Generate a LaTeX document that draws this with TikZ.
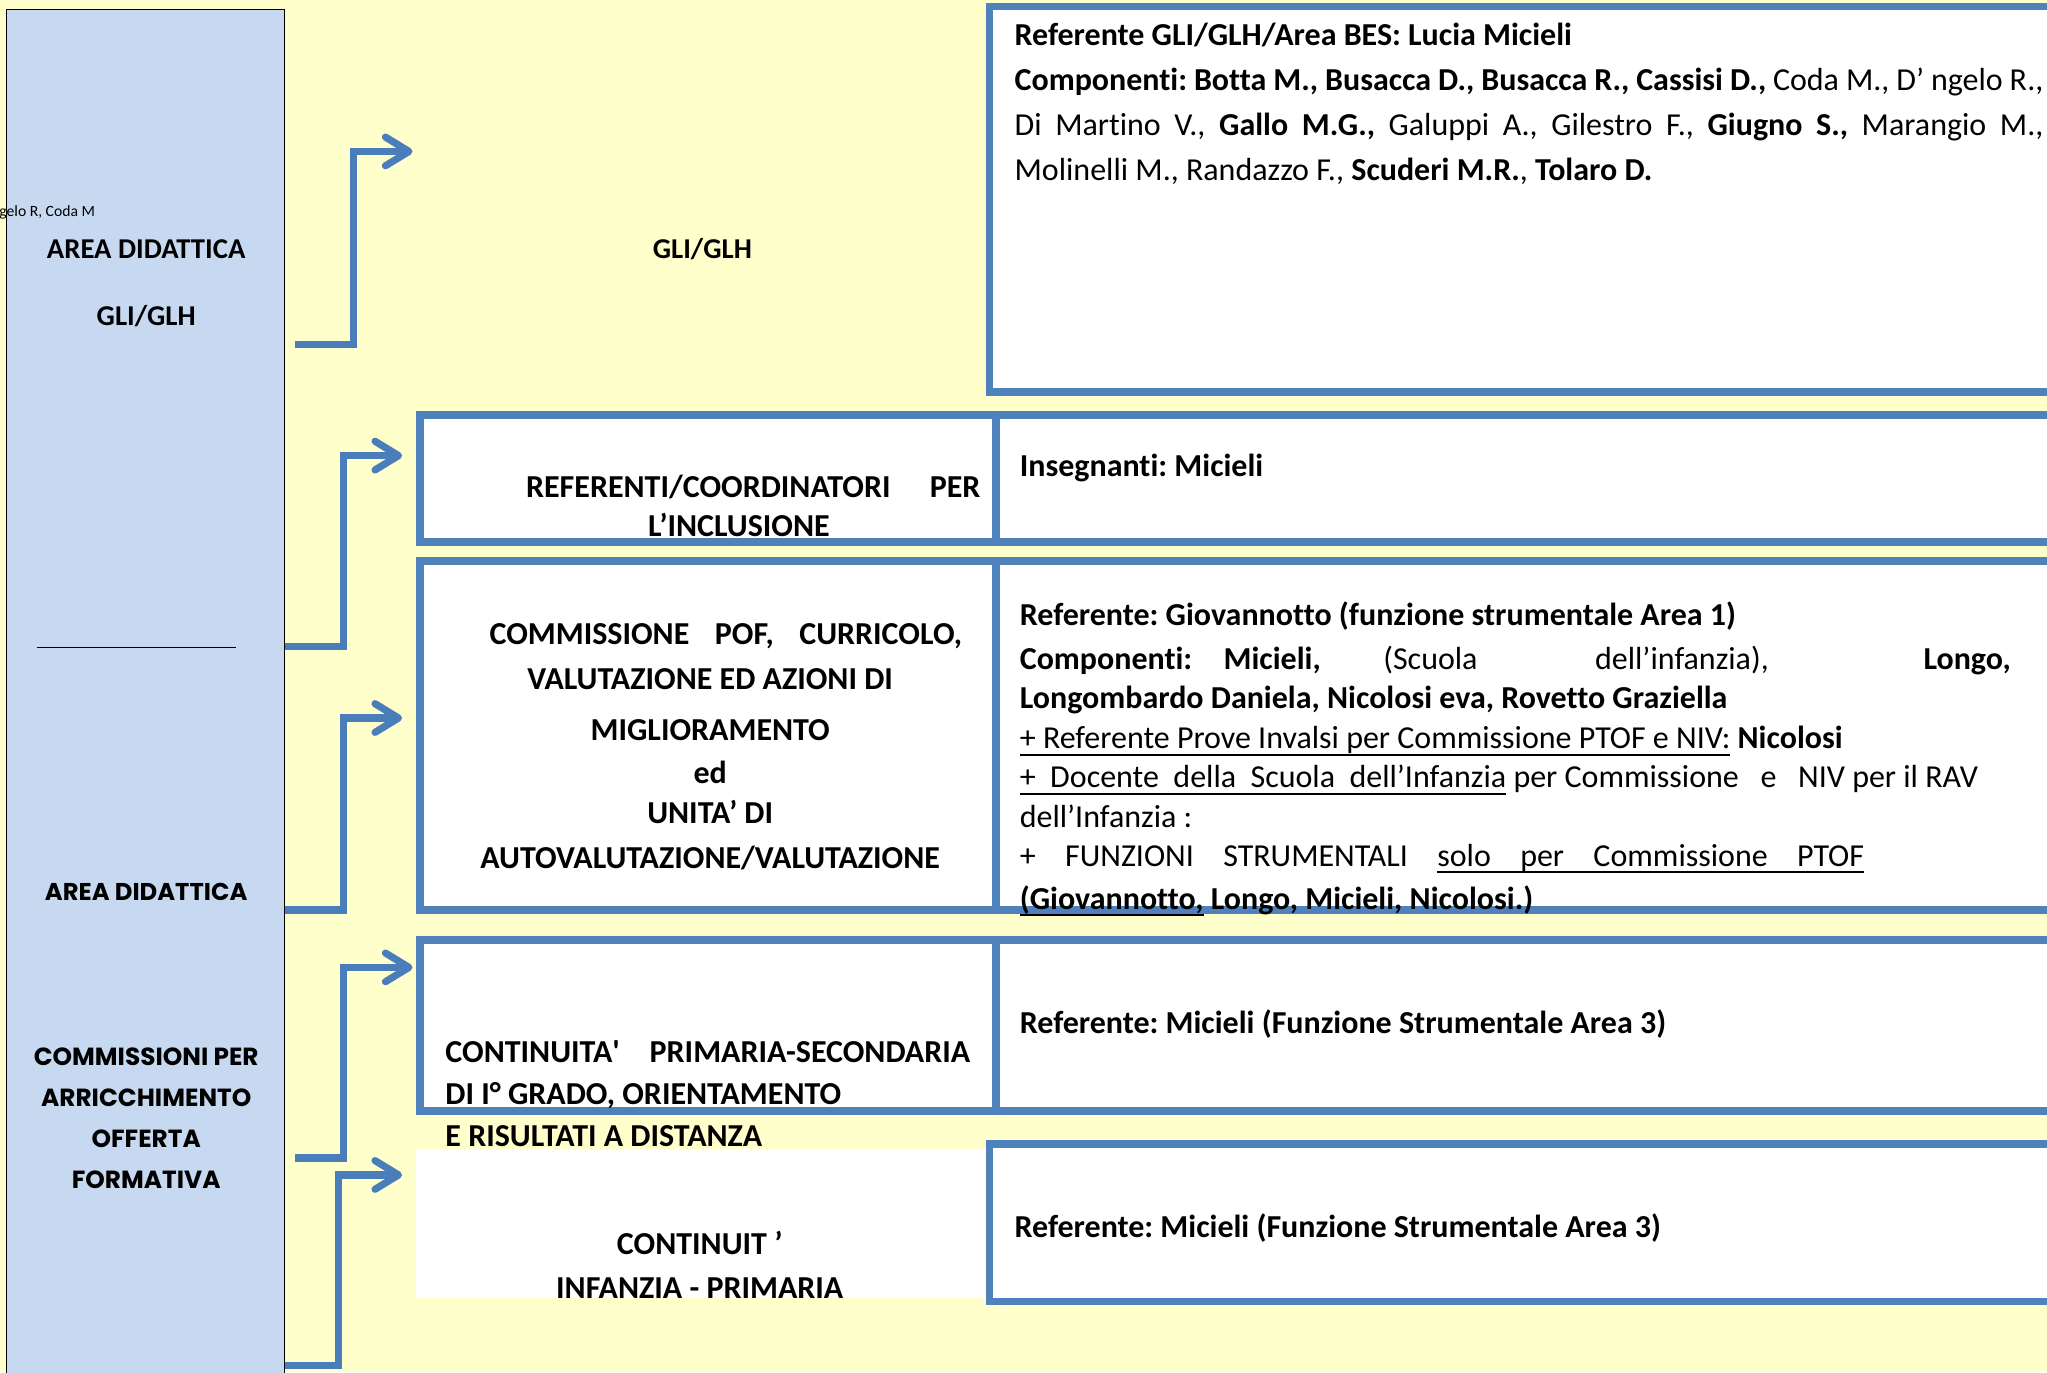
\documentclass[tikz,border=0pt]{standalone}
\usepackage{fontspec}
\setmainfont{Carlito}[Ligatures={TeX,NoCommon}]
\newfontfamily\geosans{Poppins}
\usetikzlibrary{arrows.meta}
\definecolor{bgyellow}{HTML}{FFFFCC}
\definecolor{panelblue}{HTML}{C6D9F0}
\definecolor{boxblue}{HTML}{4F81BD}
\definecolor{flowblue}{HTML}{4A7EBB}
\newsavebox{\ulbox}
\newcommand{\jline}[1]{\makebox[\linewidth][s]{#1}}
\newcommand{\uln}[1]{\sbox{\ulbox}{#1}\rlap{\rule[-5.5pt]{\wd\ulbox}{1.8pt}}\usebox{\ulbox}}
\frenchspacing
\begin{document}
\begin{tikzpicture}[x=1pt, y=-1pt,
    boxframe/.style={draw=boxblue, line width=6pt, fill=white, anchor=north west, inner sep=0pt, outer sep=0pt},
    flow/.style={draw=flowblue, line width=5.5pt, -{Straight Barb[length=18pt,width=22pt,round]}},
    bodytxt/.style={anchor=base west, inner sep=0pt, font=\fontsize{24.5}{30}\selectfont},
    captxt/.style={anchor=base, inner sep=0pt, font=\bfseries\fontsize{24.5}{35}\selectfont},
    widetxt/.style={anchor=base, inner sep=0pt, font=\geosans\bfseries\fontsize{19}{31.5}\selectfont}]
  \useasboundingbox (0,0) rectangle (1568,1051);
  \fill[bgyellow] (0,0) rectangle (1568,1051);

  % left column
  \node[draw=black, line width=0.8pt, fill=panelblue, anchor=north west, inner sep=0pt, outer sep=0pt,
        minimum width=213pt, minimum height=1060pt] (area) at (5,7) {};
  \node[anchor=base east, inner sep=0pt, font=\fontsize{12}{14}\selectfont] (cut) at (73,166) {gelo R, Coda M};
  \node[captxt, font=\bfseries\fontsize{22}{26}\selectfont] (area1) at (112,198) {AREA DIDATTICA};
  \node[captxt, font=\bfseries\fontsize{22}{26}\selectfont] (area2) at (112,249) {GLI/GLH};
  \draw[line width=0.8pt] (28,496) -- (181,496);
  \node[widetxt, font=\geosans\bfseries\fontsize{18.6}{31.5}\selectfont] (area3) at (112,690) {AREA DIDATTICA};
  \node[widetxt] (arricch) at (112,816) {\begin{minipage}[t]{220pt}\centering
    COMMISSIONI PER\\ARRICCHIMENTO\\OFFERTA\\FORMATIVA\end{minipage}};

  % boxes
  \node[boxframe, minimum width=842pt, minimum height=295pt] (gliBox) at (758,5) {};
  \node[boxframe, minimum width=441pt, minimum height=97pt] (refL) at (322,318) {};
  \node[boxframe, minimum width=837pt, minimum height=97pt] (refR) at (763,318) {};
  \node[boxframe, minimum width=441pt, minimum height=267pt] (comL) at (322,430) {};
  \node[boxframe, minimum width=837pt, minimum height=267pt] (comR) at (763,430) {};
  \node[boxframe, minimum width=441pt, minimum height=131pt] (conL) at (322,720) {};
  \node[boxframe, minimum width=837pt, minimum height=131pt] (conR) at (763,720) {};
  \node[boxframe, minimum width=842pt, minimum height=121pt] (infR) at (758,876) {};

  % arrows
  \foreach \n/\sx/\sy/\kx/\ex/\ey in {1/226/264/271/316/116, 2/218/495/263/308/349,
      3/218/697/263/308/550, 4/226/887/263/316/741, 5/218/1046/259/308/900}
  {
    \coordinate (s\n) at (\sx,\sy);
    \coordinate (e\n) at (\ex,\ey);
    \draw[flow] (s\n) -| (\kx,\ey) -- (e\n);
  }

  % GLI/GLH
  \node[captxt, font=\bfseries\fontsize{22}{26}\selectfont] (gliMid) at (538,198) {GLI/GLH};
  \node[bodytxt, font=\fontsize{24.5}{34.4}\selectfont] (gliTxt) at (777,35) {\begin{minipage}[t]{788pt}
    \textbf{Referente GLI/GLH/Area BES: Lucia Micieli}\\
    \jline{\textbf{Componenti: Botta M., Busacca D., Busacca R., Cassisi D.,} Coda M., D’ ngelo R.,}\\
    \jline{Di Martino V., \textbf{Gallo M.G.,} Galuppi A., Gilestro F., \textbf{Giugno S.,} Marangio M.,}\\
    Molinelli M., Randazzo F., \textbf{Scuderi M.R.}, \textbf{Tolaro D.}\end{minipage}};

  % referenti
  \node[captxt, font=\bfseries\fontsize{24.5}{30}\selectfont] (refTxt) at (577,381) {\begin{minipage}[t]{348pt}\centering
    \makebox[348pt][s]{REFERENTI/COORDINATORI\hfill PER}\\
    \hspace*{-22pt}L’INCLUSIONE\end{minipage}};
  \node[bodytxt, font=\bfseries\fontsize{24.5}{30}\selectfont] (insTxt) at (781,365) {Insegnanti: Micieli};

  % commissione
  \node[captxt] (comTxt) at (544,494) {\begin{minipage}[t]{400pt}\centering
    \hspace*{24pt}\makebox[362pt][s]{COMMISSIONE\hfill POF,\hfill CURRICOLO,}\\[-0.5pt]
    VALUTAZIONE ED AZIONI DI\\[3.5pt]
    MIGLIORAMENTO\\[-2pt]
    ed\\[-4.5pt]
    UNITA’ DI\\[-0.5pt]
    AUTOVALUTAZIONE/VALUTAZIONE\end{minipage}};
  \node[bodytxt] (comList) at (781,479) {\begin{minipage}[t]{759pt}
    \textbf{Referente: Giovannotto (funzione strumentale Area 1)}\\[4pt]
    \jline{\textbf{Componenti:}\hspace*{24pt}\textbf{Micieli,}\hspace*{48pt}(Scuola\hspace*{90pt}dell’infanzia),\hfill\textbf{Longo,}}\\
    \textbf{Longombardo Daniela, Nicolosi eva, Rovetto Graziella}\\[0.5pt]
    \uln{+ Referente Prove Invalsi per Commissione PTOF e NIV:} \textbf{Nicolosi}\\
    \uln{+\ \ Docente\ \ della\ \ Scuola\ \ dell’Infanzia} per Commissione\ \ \ e\ \ \ NIV per il RAV\\
    dell’Infanzia :\\
    +\kern22.5pt FUNZIONI\kern22.5pt STRUMENTALI\kern22.5pt \uln{solo\kern22.5pt per\kern22.5pt Commissione\kern22.5pt PTOF}\\[3pt]
    \textbf{\uln{(Giovannotto,} Longo, Micieli, Nicolosi.)}\end{minipage}};

  % continuita
  \node[bodytxt, font=\bfseries\fontsize{24.5}{32}\selectfont] (conTxt) at (341,814) {\begin{minipage}[t]{402pt}
    \jline{CONTINUITA\textquotesingle\hfill PRIMARIA-SECONDARIA}\\
    DI I° GRADO, ORIENTAMENTO\\
    E RISULTATI A DISTANZA\end{minipage}};
  \node[bodytxt, font=\bfseries\fontsize{24.5}{30}\selectfont] (conRef) at (781,792) {Referente: Micieli (Funzione Strumentale Area 3)};

  % infanzia
  \node[fill=white, anchor=north west, inner sep=0pt, outer sep=0pt, minimum width=436pt, minimum height=114pt] (infL) at (319,880) {};
  \node[captxt, font=\bfseries\fontsize{24.5}{34}\selectfont] (infTxt) at (536,961) {\begin{minipage}[t]{300pt}\centering
    CONTINUIT ’\\INFANZIA - PRIMARIA\end{minipage}};
  \node[bodytxt, font=\bfseries\fontsize{24.5}{30}\selectfont] (infRef) at (777,948) {Referente: Micieli (Funzione Strumentale Area 3)};
\end{tikzpicture}
\end{document}
